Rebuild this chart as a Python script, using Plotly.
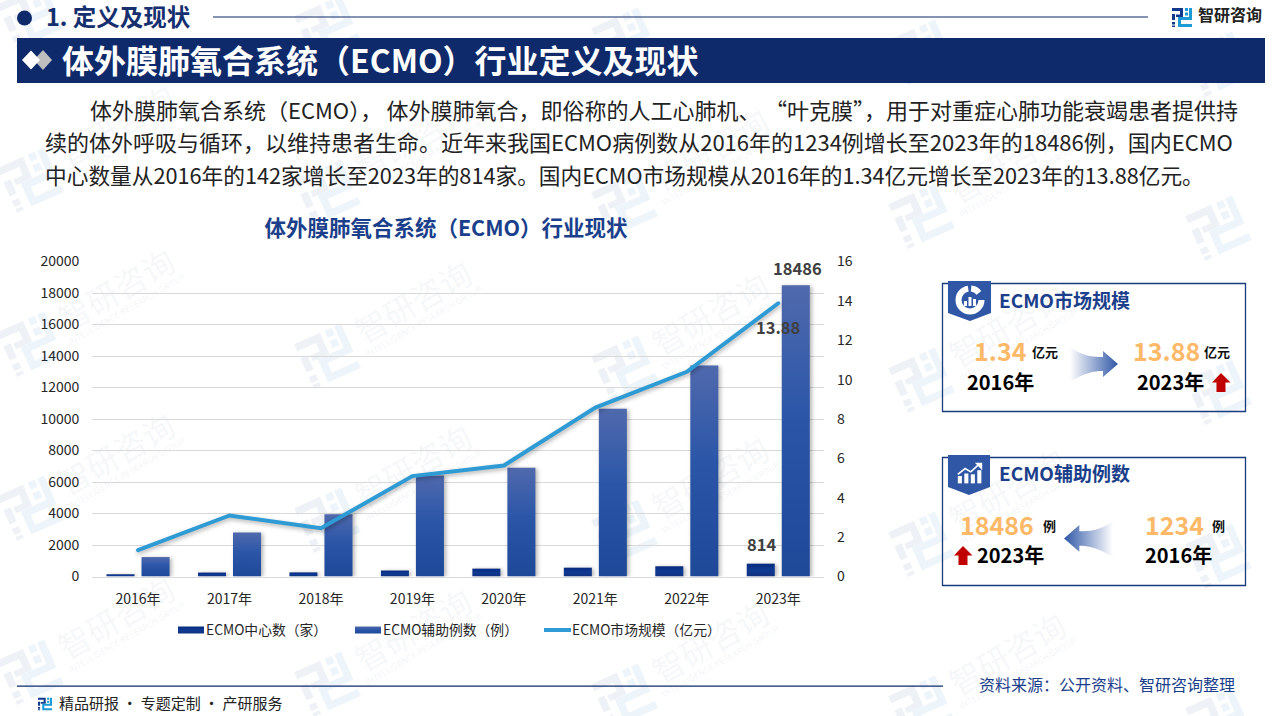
import base64
import plotly.graph_objects as go

W, H = 1279, 716
FONT = "Noto Sans CJK SC"
NAVY = "#0E2A6B"
TITLE_BLUE = "#1B3F8B"
ORANGE = "#FDB968"

# ---- data ----
years = ["2016年", "2017年", "2018年", "2019年", "2020年", "2021年", "2022年", "2023年"]
centers = [142, 250, 260, 380, 500, 560, 650, 814]
cases = [1234, 2800, 3950, 6420, 6900, 10650, 13400, 18486]
market = [1.34, 3.1, 2.45, 5.1, 5.64, 8.58, 10.4, 13.88]
series_names = ["ECMO中心数（家）", "ECMO辅助例数（例）", "ECMO市场规模（亿元）"]
left_ticks = [0, 2000, 4000, 6000, 8000, 10000, 12000, 14000, 16000, 18000, 20000]
right_ticks = [0, 2, 4, 6, 8, 10, 12, 14, 16]
body_lines = [
    "体外膜肺氧合系统（ECMO），\u2009体外膜肺氧合，即俗称的人工心肺机、\u2009“叶克膜”，用于对重症心肺功能衰竭患者提供持",
    "续的体外呼吸与循环，以维持患者生命。近年来我国ECMO病例数从2016年的1234例增长至2023年的18486例，国内ECMO",
    "中心数量从2016年的142家增长至2023年的814家。国内ECMO市场规模从2016年的1.34亿元增长至2023年的13.88亿元。",
]


def px(x):
    return x / W


def py(y):
    return 1 - y / H


def svg_uri(body, w, h):
    svg = f'<svg xmlns="http://www.w3.org/2000/svg" viewBox="0 0 {w} {h}" width="{w}" height="{h}">{body}</svg>'
    return "data:image/svg+xml;base64," + base64.b64encode(svg.encode()).decode()


def logo_body(c1, c2):
    return (
        f'<path fill="{c1}" d="M0 1H11V10H4V7.5H8V4H0ZM0 7H3V13H0ZM0 15H3V17.5H0ZM0 18.500H3V20H0Z"/>'
        f'<path fill="{c2}" d="M13 1H16V4H13ZM17 1H20V13H9V17H20V20H6V10H17ZM13 5.500H16V8.500H13Z"/>'
    )


images = []
shapes = []
annotations = []


def image(uri, x0, y0, x1, y1, layer="above"):
    images.append(dict(source=uri, xref="paper", yref="paper", x=px(x0), y=py(y0),
                       sizex=(x1 - x0) / W, sizey=(y1 - y0) / H, xanchor="left", yanchor="top",
                       sizing="stretch", layer=layer))


def rect(x0, y0, x1, y1, fill=None, line=None, lw=0):
    shapes.append(dict(type="rect", xref="paper", yref="paper", x0=px(x0), x1=px(x1), y0=py(y0), y1=py(y1),
                       fillcolor=fill or "rgba(0,0,0,0)", line=dict(color=line or "rgba(0,0,0,0)", width=lw),
                       layer="below"))


def poly(pts, fill):
    d = "M" + " L".join(f"{px(a):.5f},{py(b):.5f}" for a, b in pts) + " Z"
    shapes.append(dict(type="path", path=d, xref="paper", yref="paper", fillcolor=fill,
                       line=dict(width=0), layer="below"))


def text(s, x, y, size, color, bold=False, anchor="left"):
    annotations.append(dict(text=f"<b>{s}</b>" if bold else s, xref="paper", yref="paper",
                            x=px(x - 2), y=py(y - 1.5), xanchor=anchor, yanchor="middle", showarrow=False,
                            font=dict(family=FONT, size=size, color=color)))


# ---- watermark (below everything) ----
wm_logo = svg_uri(
    '<g transform="rotate(-24 30 30) translate(8 8) scale(2.2)" opacity="0.6">'
    + logo_body("#E3E9F1", "#E3F0F8") + "</g>", 60, 60)
for i in range(-1, 5):
    for j in range(-2, 5):
        lx = 30 + 297 * i
        ly = 343 + 12 * i + 164 * j
        if -60 < lx < W + 60 and -60 < ly < H + 60:
            image(wm_logo, lx - 35, ly - 35, lx + 35, ly + 35, layer="below")
        for txt, ox, oy, size, col, mx, my in [
            ("智研咨询", 88, -50, 32, "rgba(120,130,150,0.085)", 62, 40),
            ("INTELLIGENCE RESEARCH GROUP", 97, -33, 8.5, "rgba(120,130,150,0.11)", 62, 36),
        ]:
            cx, cy = lx + ox, ly + oy
            if mx < cx < W - mx and my < cy < H - my:
                shapes.append(dict(type="rect", xref="paper", yref="paper",
                                   x0=px(cx - 5), x1=px(cx + 5), y0=py(cy + 5), y1=py(cy - 5),
                                   line=dict(width=0), fillcolor="rgba(0,0,0,0)", layer="below",
                                   label=dict(text=txt, textangle=-30, textposition="middle center",
                                              font=dict(family=FONT, size=size, color=col))))

# ---- header ----
shapes.append(dict(type="circle", xref="paper", yref="paper", x0=px(17), x1=px(32), y0=py(25.5), y1=py(10.5),
                   fillcolor=NAVY, line=dict(width=0), layer="below"))
text("1. 定义及现状", 46, 18, 23.5, "#16306F", bold=True)
rect(213, 16.6, 1148, 17.6, fill=NAVY)
image(svg_uri(logo_body("#123A8C", "#1E9BD7"), 20, 21), 1172, 7, 1192, 28)
text("智研咨询", 1198, 16, 16, "#222222", bold=True)

rect(17, 38, 1265, 83, fill=NAVY)
poly([(34, 60), (43, 50), (52, 60), (43, 70)], "#BFBFBF")
poly([(22, 60), (31, 50.5), (40, 60), (31, 69.5)], "#FFFFFF")
text("体外膜肺氧合系统（ECMO）行业定义及现状", 62, 60, 32, "#FFFFFF", bold=True)

# ---- paragraph ----
text(body_lines[0], 90, 110, 22, "#222222")
text(body_lines[1], 45, 143, 22, "#222222")
text(body_lines[2], 45, 176, 21.7, "#222222")

# ---- right panels ----
rect(942.5, 283.5, 1245.5, 411.5, line="#1A3C7C", lw=1.3)
rect(942.5, 457.5, 1245.5, 585.5, line="#1A3C7C", lw=1.3)
BADGE = "#2F57A6"
poly([(948, 281), (991, 281), (991, 313), (970, 321), (948, 313)], BADGE)
poly([(948, 455), (990, 455), (990, 487), (969, 495), (948, 487)], BADGE)
image(svg_uri(
    '<circle cx="16" cy="16" r="11.5" fill="none" stroke="#fff" stroke-width="6" stroke-dasharray="52 3 9 8"/>'
    '<rect x="10" y="17" width="3" height="5" fill="#fff"/><rect x="14.500" y="13" width="3" height="9" fill="#fff"/>'
    '<rect x="19" y="15" width="3" height="7" fill="#fff"/>', 32, 32), 954, 284, 986, 316)
image(svg_uri(
    '<rect x="1" y="17" width="5" height="9" fill="#fff"/><rect x="9" y="14" width="5" height="12" fill="#fff"/>'
    '<rect x="17" y="15" width="5" height="11" fill="#fff"/><rect x="25" y="10" width="5" height="16" fill="#fff"/>'
    '<path d="M1 15 L10 8 L17 12 L27 3" fill="none" stroke="#fff" stroke-width="2"/>'
    '<path d="M22 1 H31 V10 Z" fill="#fff"/>', 32, 28), 957, 462, 983, 485)

arrow_right = "M0,0 C14,10 24,10 33,10 L33,4 L48,17 L33,30 L33,24 C24,24 14,26 0,35 Z"
arrow_left = "M48,0 C34,10 24,10 15,10 L15,4 L0,17 L15,30 L15,24 C24,24 34,26 48,35 Z"


def arrow_svg(d, x1, x2):
    return svg_uri(
        f'<defs><linearGradient id="a" x1="{x1}" x2="{x2}" y1="0" y2="0">'
        '<stop offset="0" stop-color="#FFFFFF"/><stop offset="1" stop-color="#2F57A6"/></linearGradient></defs>'
        f'<path d="{d}" fill="url(#a)"/>', 48, 35)


image(arrow_svg(arrow_right, 0, 1), 1070, 347, 1118, 382)
image(arrow_svg(arrow_left, 1, 0), 1064, 521, 1113, 557)


def up_arrow(x0, y0):
    poly([(x0 + 9, y0), (x0 + 18.5, y0 + 9.5), (x0 + 13.5, y0 + 9.5), (x0 + 13.5, y0 + 19),
          (x0 + 4.5, y0 + 19), (x0 + 4.5, y0 + 9.5), (x0, y0 + 9.5)], "#C00000")


text("ECMO市场规模", 999, 301, 19, TITLE_BLUE, bold=True)
text("1.34", 974, 351, 25, ORANGE, bold=True)
text("亿元", 1032, 353, 13, "#111111", bold=True)
text("2016年", 967, 383, 20, "#000000", bold=True)
text("13.88", 1133, 351, 25, ORANGE, bold=True)
text("亿元", 1204, 353, 13, "#111111", bold=True)
text("2023年", 1137, 383, 20, "#000000", bold=True)
up_arrow(1212, 373)

text("ECMO辅助例数", 999, 474, 19, TITLE_BLUE, bold=True)
text("18486", 960, 525, 25, ORANGE, bold=True)
text("例", 1043, 527, 13, "#111111", bold=True)
text("2023年", 977, 556, 20, "#000000", bold=True)
text("1234", 1145, 525, 25, ORANGE, bold=True)
text("例", 1212, 527, 13, "#111111", bold=True)
text("2016年", 1145, 556, 20, "#000000", bold=True)
up_arrow(954, 546)

# ---- footer ----
rect(17, 685.6, 943, 686.8, fill=NAVY)
image(svg_uri(logo_body("#123A8C", "#1E9BD7"), 20, 21), 38, 697, 52, 711)
text("精品研报 · 专题定制 · 产研服务", 59, 704, 15, "#222222")
text("资料来源：公开资料、智研咨询整理", 979, 685, 16, "#1B3F8B")

# ---- value labels, read from the series ----
LABEL = dict(family=FONT, size=16.5, color="#404040")
annotations.extend([
    dict(text=f"<b>{cases[-1]}</b>", x=years[-1], y=cases[-1], xref="x", yref="y", xshift=19, yshift=17,
         showarrow=False, font=LABEL),
    dict(text=f"<b>{centers[-1]}</b>", x=years[-1], y=centers[-1], xref="x", yref="y", xshift=-17, yshift=20,
         showarrow=False, font=LABEL),
    dict(text=f"<b>{market[-1]}</b>", x=years[-1], y=market[-1], xref="x", yref="y2", yshift=-24,
         showarrow=False, font=LABEL),
])

fig = go.Figure()
fig.add_bar(x=years, y=centers, name=series_names[0], marker=dict(color="#0F2F85", line=dict(width=0)))
fig.add_bar(x=years, y=cases, name=series_names[1], marker=dict(color="#2C57A8", line=dict(width=0)))
fig.add_scatter(x=years, y=market, name=series_names[2], yaxis="y2", mode="lines",
                line=dict(color="#2F9BD5", width=4))

AX = dict(family=FONT, size=14, color="#262626")
fig.update_layout(
    width=W, height=H, margin=dict(l=0, r=0, t=0, b=0, autoexpand=False),
    paper_bgcolor="#FFFFFF", plot_bgcolor="rgba(0,0,0,0)",
    barmode="group", bargap=0.234, bargroupgap=0.2,
    font=AX, hovermode=False,
    title=dict(text="<b>体外膜肺氧合系统（ECMO）行业现状</b>", x=446 / W, xanchor="center",
               y=py(228), yanchor="middle", font=dict(family=FONT, size=21.5, color=TITLE_BLUE)),
    xaxis=dict(domain=[px(92.3), px(824)], range=[-0.5, 7.5], type="category", showgrid=False,
               ticks="", showline=True, linecolor="#D9D9D9", linewidth=1.3, tickfont=AX, ticklabelstandoff=10),
    yaxis=dict(domain=[py(576.5), py(261.5)], range=[0, 20000], tickvals=left_ticks, showgrid=True,
               gridcolor="#D9D9D9", gridwidth=1.3, zeroline=False, ticks="", tickfont=AX, ticklabelstandoff=12,
               tickformat="d"),
    yaxis2=dict(domain=[py(576.5), py(261.5)], range=[0, 16], tickvals=right_ticks, overlaying="y", side="right",
                showgrid=False, zeroline=False, ticks="", tickfont=AX, ticklabelstandoff=12),
    legend=dict(orientation="h", x=px(170), xanchor="left", y=py(615), yanchor="top",
                font=dict(family=FONT, size=13.8, color="#262626"), bgcolor="rgba(0,0,0,0)",
                entrywidth=190, entrywidthmode="pixels", itemwidth=30, traceorder="normal"),
    images=images, shapes=shapes, annotations=annotations,
)

post = r"""
document.body.style.margin = '0';
document.body.style.overflow = 'hidden';
var gd = document.getElementById('{plot_id}');
var svg = gd.querySelector('svg.main-svg');
var ns = 'http://www.w3.org/2000/svg';
var defs = svg.querySelector('defs');
function grad(id, stops) {
  var g = document.createElementNS(ns, 'linearGradient');
  g.setAttribute('id', id); g.setAttribute('x1', 0); g.setAttribute('x2', 0);
  g.setAttribute('y1', 0); g.setAttribute('y2', 1);
  stops.forEach(function (s) {
    var st = document.createElementNS(ns, 'stop');
    st.setAttribute('offset', s[0]); st.setAttribute('stop-color', s[1]); g.appendChild(st);
  });
  defs.appendChild(g);
}
grad('g0', [[0, '#072A7E'], [0.5, '#0F3A92'], [1, '#11327F']]);
grad('g1', [[0, '#5069AD'], [0.45, '#2B56A8'], [1, '#1E4999']]);
gd.querySelectorAll('.barlayer .trace').forEach(function (t, i) {
  t.querySelectorAll('.point path').forEach(function (p) {
    p.style.fill = 'url(#g' + i + ')';
    p.style.filter = 'drop-shadow(2px 1px 2px rgba(0,0,0,0.3))';
  });
});
gd.querySelectorAll('.scatterlayer .js-line').forEach(function (p) {
  p.style.filter = 'drop-shadow(1px 2px 2px rgba(0,0,0,0.3))';
  p.style.strokeLinecap = 'round';
});
var starts = [8, 185, 374];
gd.querySelectorAll('.legend .traces').forEach(function (t, i) {
  t.setAttribute('transform', 'translate(' + starts[i] + ',15)');
  var bar = t.querySelector('.legendpoints path');
  if (bar && i < 2) {
    bar.setAttribute('d', 'M13,3.5H-13V-3.5H13Z');
    bar.setAttribute('transform', 'translate(13,0)');
    bar.style.fill = 'url(#g' + i + ')';
  }
  var ln = t.querySelector('.legendlines path');
  if (ln) { ln.setAttribute('d', 'M0,0h27'); }
  var tx = t.querySelector('.legendtext');
  if (tx) { tx.setAttribute('x', 28); }
});
"""

fig.write_html("out.html", post_script=post, config=dict(displayModeBar=False))
